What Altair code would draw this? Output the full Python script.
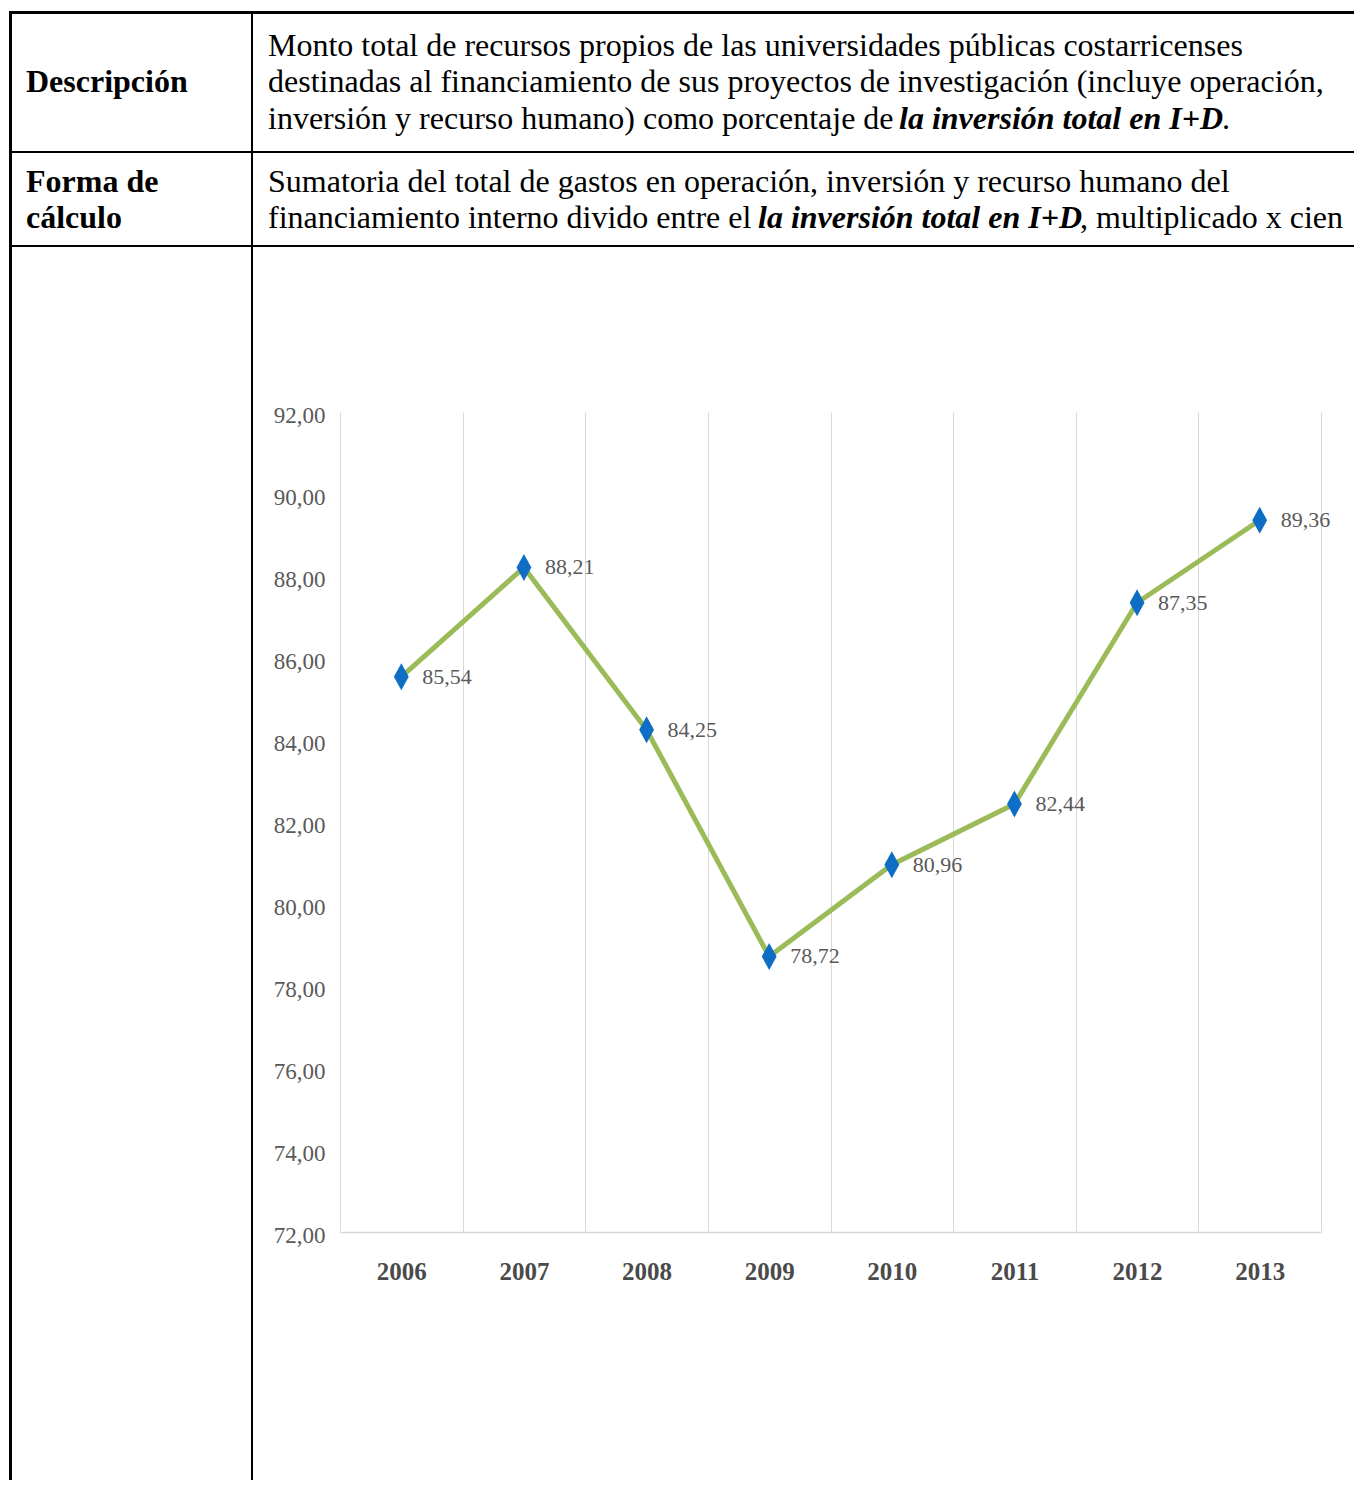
import altair as alt
import pandas as pd

# ---- chart data ----
years = ["2006", "2007", "2008", "2009", "2010", "2011", "2012", "2013"]
values = [85.54, 88.21, 84.25, 78.72, 80.96, 82.44, 87.35, 89.36]
y_ticks = [72, 74, 76, 78, 80, 82, 84, 86, 88, 90, 92]

# ---- table texts ----
row1_label = "Descripción"
row1_lines = [
    "Monto total de recursos propios de las universidades públicas costarricenses",
    "destinadas al financiamiento de sus proyectos de investigación (incluye operación,",
]
row1_l3 = ["inversión y recurso humano) como porcentaje de ", "la inversión total en I+D", "."]
row2_label = ["Forma de", "cálculo"]
row2_l1 = "Sumatoria del total de gastos en operación, inversión y recurso humano del"
row2_l2 = ["financiamiento interno divido entre el ", "la inversión total en I+D", ", multiplicado x cien"]

df = pd.DataFrame({"year": years, "value": values})

# layout (page pixels)
OX, OY = 340, 412          # page position of the plot area's top-left
W, H = 981, 820
TOTAL_W, TOTAL_H = 1346, 1472

FONT = "Liberation Serif"
FS = 32

def px(x):
    return x - OX

def py(y):
    return y - OY

one = alt.Data(values=[{"k": 1}])

def text_layer(s, x, y, weight="normal", style="normal"):
    return alt.Chart(one).mark_text(
        align="left", baseline="alphabetic", font=FONT, fontSize=FS,
        fontWeight=weight, fontStyle=style, color="#000000"
    ).encode(x=alt.value(px(x)), y=alt.value(py(y)), text=alt.value(s))

def hrule(y, x1, x2, w):
    return alt.Chart(one).mark_rule(color="#000000", strokeWidth=w).encode(
        x=alt.value(px(x1)), x2=alt.value(px(x2)), y=alt.value(py(y)))

def vrule(x, y1, y2, w):
    return alt.Chart(one).mark_rule(color="#000000", strokeWidth=w).encode(
        x=alt.value(px(x)), y=alt.value(py(y1)), y2=alt.value(py(y2)))

xenc = alt.X(
    "year:O",
    scale=alt.Scale(type="band", paddingInner=0, paddingOuter=0),
    axis=alt.Axis(
        title=None, labelAngle=0, ticks=False, tickBand="extent",
        grid=True, gridColor="#D9D9D9", gridWidth=1,
        domain=True, domainColor="#D9D9D9", domainWidth=1.5,
        labelFont=FONT, labelFontSize=25, labelFontWeight="bold",
        labelColor="#4A4A4A", labelPadding=27,
    ),
)
yenc = alt.Y(
    "value:Q",
    scale=alt.Scale(domain=[72, 92], nice=False, zero=False),
    axis=alt.Axis(
        title=None, values=y_ticks, ticks=False, domain=False, grid=False,
        labelExpr="replace(format(datum.value, '.2f'), '.', ',')",
        labelFont=FONT, labelFontSize=23, labelColor="#595959", labelPadding=15,
        labelBaseline="middle", labelOffset=3,
    ),
)

base = alt.Chart(df)
line = base.mark_line(color="#9BBB59", strokeWidth=5).encode(x=xenc, y=yenc)
points = base.mark_point(
    shape="M0,-1L0.55,0L0,1L-0.55,0Z", filled=True, size=729,
    color="#0E6EC5", opacity=1
).encode(x=xenc, y=yenc)
labels = base.transform_calculate(
    lbl="replace(format(datum.value, '.2f'), '.', ',')"
).mark_text(
    align="left", baseline="middle", dx=21, font=FONT, fontSize=22, color="#595959"
).encode(x=xenc, y=yenc, text="lbl:N")

decor = [
    hrule(12.5, 9, 1362, 3),
    vrule(10.5, 11, 1488, 3),
    vrule(252, 12, 1488, 2),
    hrule(152, 10, 1362, 2),
    hrule(246, 10, 1362, 2),
    text_layer(row1_label, 26, 92, weight="bold"),
    text_layer(row1_lines[0], 268, 56),
    text_layer(row1_lines[1], 268, 92),
    text_layer(row1_l3[0], 268, 129),
    text_layer(row1_l3[1], 899, 129, weight="bold", style="italic"),
    text_layer(row1_l3[2], 1222, 129),
    text_layer(row2_label[0], 26, 192, weight="bold"),
    text_layer(row2_label[1], 26, 228, weight="bold"),
    text_layer(row2_l1, 268, 192),
    text_layer(row2_l2[0], 268, 228),
    text_layer(row2_l2[1], 758, 228, weight="bold", style="italic"),
    text_layer(row2_l2[2], 1080, 228),
]

chart = alt.layer(line, points, labels, *decor).properties(
    width=W, height=H,
    autosize=alt.AutoSizeParams(type="none"),
    padding={"left": OX - 8, "top": OY - 8,
             "right": TOTAL_W - (OX - 8) - W, "bottom": TOTAL_H - (OY - 8) - H},
    background="#FFFFFF",
).configure_view(stroke=None)

chart.save("out.html", embed_options={"renderer": "svg", "actions": False})
